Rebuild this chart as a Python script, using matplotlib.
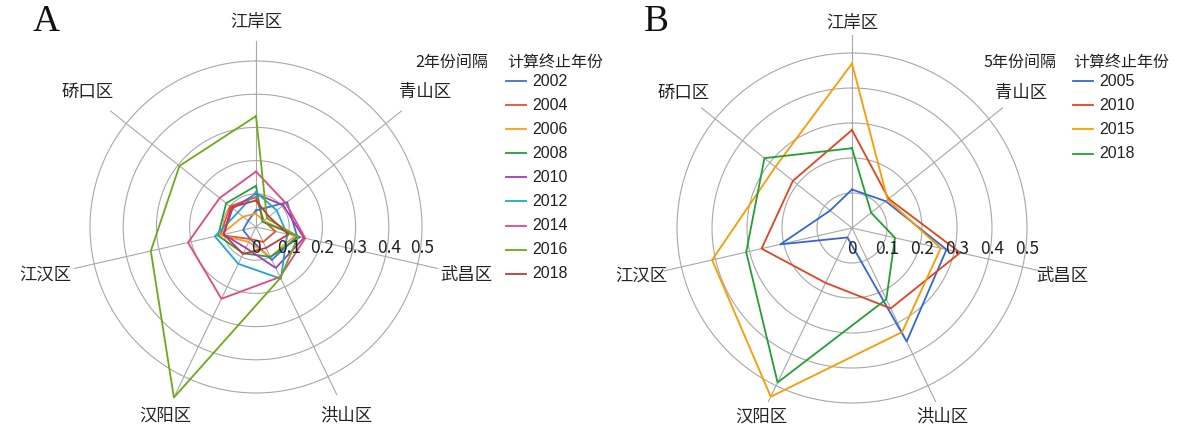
import numpy as np
import matplotlib
matplotlib.use('Agg')
import matplotlib.pyplot as plt
from matplotlib.lines import Line2D
from matplotlib.transforms import offset_copy

plt.rcParams['font.family'] = ['Noto Sans CJK SC', 'DejaVu Sans']

# ---------------- data ----------------
districts = ['江岸区', '青山区', '武昌区', '洪山区', '汉阳区', '江汉区', '硚口区']
radial_ticks = [0, 0.1, 0.2, 0.3, 0.4, 0.5]
radial_tick_labels = ['0', '0.1', '0.2', '0.3', '0.4', '0.5']

# Panel A: 2-year interval
years_a = ['2002', '2004', '2006', '2008', '2010', '2012', '2014', '2016', '2018']
a_2002 = [0.05, 0.12, 0.127, 0.11, 0.04, 0.04, 0.03]
a_2004 = [0.09, 0.03, 0.06, 0.05, 0.04, 0.11, 0.10]
a_2006 = [0.04, 0.03, 0.12, 0.10, 0.05, 0.11, 0.05]
a_2008 = [0.124, 0.025, 0.136, 0.10, 0.088, 0.117, 0.115]
a_2010 = [0.10, 0.105, 0.148, 0.137, 0.07, 0.10, 0.09]
a_2012 = [0.105, 0.08, 0.096, 0.173, 0.123, 0.127, 0.07]
a_2014 = [0.167, 0.115, 0.152, 0.167, 0.24, 0.21, 0.14]
a_2016 = [0.334, 0.042, 0.13, 0.17, 0.57, 0.325, 0.295]
a_2018 = [0.08, 0.05, 0.10, 0.07, 0.09, 0.10, 0.095]
series_a = [a_2002, a_2004, a_2006, a_2008, a_2010, a_2012, a_2014, a_2016, a_2018]
colors_a = ['#3f6fd6', '#e5502e', '#ff9a1f', '#2a9c3a', '#a23bb8', '#1ea6d4',
            '#e5467f', '#6aab16', '#c23a3a']

# Panel B: 5-year interval
years_b = ['2005', '2010', '2015', '2018']
b_2005 = [0.11, 0.123, 0.277, 0.36, 0.03, 0.21, 0.08]
b_2010 = [0.28, 0.134, 0.317, 0.255, 0.174, 0.265, 0.216]
b_2015 = [0.47, 0.13, 0.26, 0.33, 0.535, 0.41, 0.28]
b_2018 = [0.228, 0.07, 0.126, 0.226, 0.49, 0.31, 0.32]
series_b = [b_2005, b_2010, b_2015, b_2018]
colors_b = ['#3466d8', '#e5421e', '#ff9900', '#22a032']

# ---------------- figure ----------------
W, H = 1183, 428
fig = plt.figure(figsize=(W / 100, H / 100), dpi=100)

n = len(districts)
angles = np.arange(n) * 2 * np.pi / n
grid_col = '#a8a8a8'
label_px = [205, 216, 216, 209, 209, 216, 216]


def make_axes(cx, cy, rad):
    ax = fig.add_axes([(cx - rad) / W, (H - cy - rad) / H, 2 * rad / W, 2 * rad / H],
                      projection='polar')
    ax.set_theta_offset(np.pi / 2)
    ax.set_theta_direction(-1)
    ax.set_ylim(0, 0.5)
    ax.set_xticks([])
    ax.set_yticks([])
    ax.grid(False)
    ax.spines['polar'].set_visible(False)
    ax.patch.set_alpha(0)
    return ax


def decorate(ax, rad, spoke_r):
    px2r = 0.5 / rad
    th = np.linspace(0, 2 * np.pi, 400)
    for r in radial_ticks[1:]:
        ax.plot(th, np.full_like(th, r), color=grid_col, lw=0.8, clip_on=False, zorder=1)
    for t in angles:
        ax.plot([t, t], [0, spoke_r], color=grid_col, lw=0.8, clip_on=False, zorder=1)
    for t, name, lp in zip(angles, districts, label_px):
        ax.text(t, lp * px2r, name, ha='center', va='center', fontsize=12.5,
                color='#222222', clip_on=False)
    tr = offset_copy(ax.transData, fig=fig, x=0, y=-21, units='dots')
    for r, lab in zip(radial_ticks, radial_tick_labels):
        ax.text(np.pi / 2, r, lab, ha='center', va='center', fontsize=12.5,
                color='#222222', transform=tr, clip_on=False, zorder=5)


def draw_series(ax, series, colors):
    for vals, c in zip(series, colors):
        v = list(vals) + [vals[0]]
        t = list(angles) + [angles[0]]
        ax.plot(t, v, color=c, lw=1.3, clip_on=False, zorder=3)


def legend(title_left, x_title_l, x_title_r, x_line, years, colors, y0, dy):
    fig.text(x_title_l / W, 1 - 62 / H, title_left, ha='left', va='center',
             fontsize=11.5, color='#222222')
    fig.text(x_title_r / W, 1 - 62 / H, '计算终止年份', ha='left', va='center',
             fontsize=11.5, color='#222222')
    for i, (yr, c) in enumerate(zip(years, colors)):
        y = y0 + i * dy
        fig.add_artist(Line2D([x_line / W, (x_line + 20) / W], [1 - y / H, 1 - y / H],
                              transform=fig.transFigure, color=c, lw=1.3))
        fig.text((x_line + 26) / W, 1 - y / H, yr, ha='left', va='center',
                 fontsize=11.5, color='#222222', family=['Liberation Sans', 'DejaVu Sans'])


# Panel A
radA = 166
axA = make_axes(256, 227, radA)
decorate(axA, radA, 0.56)
draw_series(axA, series_a, colors_a)
legend('2年份间隔', 415, 507, 506, years_a, colors_a, 81, 24.1)

# Panel B
radB = 175
axB = make_axes(852, 228, radB)
decorate(axB, radB, 0.55)
draw_series(axB, series_b, colors_b)
legend('5年份间隔', 983, 1073, 1073, years_b, colors_b, 81, 24.2)

fig.text(46 / W, 1 - 22 / H, 'A', ha='center', va='center', fontsize=27,
         family=['Liberation Serif', 'DejaVu Serif'], color='#111111')
fig.text(656 / W, 1 - 22 / H, 'B', ha='center', va='center', fontsize=27,
         family=['Liberation Serif', 'DejaVu Serif'], color='#111111')

fig.savefig('out.png', dpi=100, facecolor='white')
